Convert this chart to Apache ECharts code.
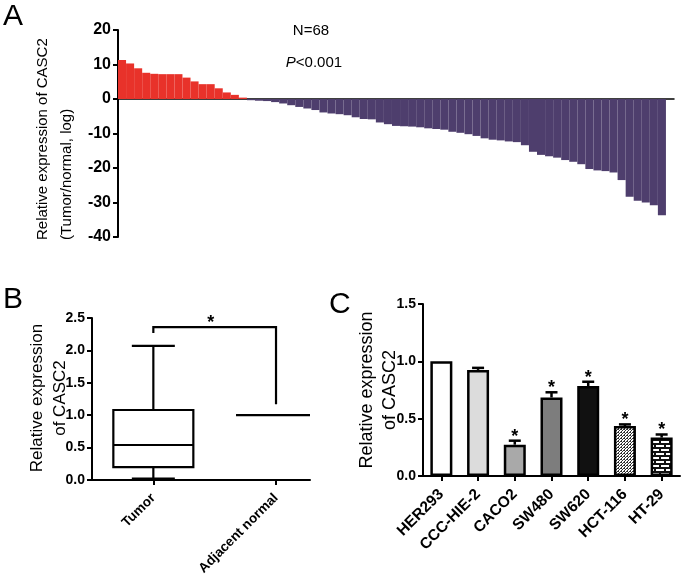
<!DOCTYPE html>
<html><head><meta charset="utf-8">
<script src="https://cdn.jsdelivr.net/npm/echarts@6/dist/echarts.min.js"></script>
<style>html,body{margin:0;padding:0;background:#fff}#c{width:685px;height:576px}</style>
</head><body><div id="c"></div>
<script>
// ---------- Panel A data ----------
const relExpr = [11.3, 10.3, 8.9, 7.6, 7.3, 7.2, 7.2, 7.2, 6.2, 5.1, 4.3, 4.3, 3.1, 1.9, 1.2, 0.4,
  -0.35, -0.5, -0.6, -0.9, -1.3, -1.8, -2.3, -2.75, -3.2, -3.9, -4.2, -4.4,
  -4.7, -5.3, -5.8, -5.9, -6.8, -7.3, -7.8, -7.9, -8.0, -8.2, -8.5, -8.7, -8.9,
  -9.5, -9.8, -10.2, -10.7, -11.4, -11.8, -12.0, -12.3, -12.5, -13.4, -15.3, -16.2, -16.6,
  -17.0, -17.7, -18.2, -18.9, -20.3, -20.7, -20.9, -21.3, -23.5, -28.3, -29.5, -30.0, -30.8, -33.7];
const sampleIds = relExpr.map((_, i) => 'S' + (i + 1)).concat(['']);
const yTicksA = { min: -40, max: 20, interval: 10 };

// ---------- Panel B data ----------
const groupsB = ['Tumor', 'Adjacent normal'];
const tumorBox = [0.02, 0.20, 0.54, 1.08, 2.07];   // min, Q1, median, Q3, max
const normalBox = [1.0, 1.0, 1.0, 1.0, 1.0];
const bracketB = [2.27, 2.36, 1.17];               // left end, top, right end

// ---------- Panel C data ----------
const cellLines = ['HER293', 'CCC-HIE-2', 'CACO2', 'SW480', 'SW620', 'HCT-116', 'HT-29'];
const meanC = [1.0, 0.925, 0.273, 0.685, 0.785, 0.435, 0.335];
const errC = [0, 0.018, 0.035, 0.045, 0.037, 0.015, 0.027];
const sigC = [0, 0, 1, 1, 1, 1, 1];

const FONT = "'Liberation Sans', Arial, Helvetica, sans-serif";

function checker() {
  const c = document.createElement('canvas'); c.width = 3; c.height = 3;
  const g = c.getContext('2d');
  g.fillStyle = '#fff'; g.fillRect(0, 0, 3, 3);
  g.fillStyle = '#333'; g.fillRect(0, 0, 1, 1); g.fillRect(2, 0, 1, 1); g.fillRect(1, 1, 1, 1); g.fillRect(0, 2, 1, 1);
  return c;
}
function brick() {
  const c = document.createElement('canvas'); c.width = 10; c.height = 8;
  const g = c.getContext('2d');
  g.fillStyle = '#111'; g.fillRect(0, 0, 10, 8);
  g.fillStyle = '#fff';
  g.fillRect(1, 1, 8, 2);
  g.fillRect(6, 5, 8, 2); g.fillRect(-4, 5, 8, 2);
  return c;
}
const fillsC = ['#ffffff', '#dcdcdc', '#a9a9a9', '#7d7d7d', '#111111',
  { image: checker(), repeat: 'repeat' }, { image: brick(), repeat: 'repeat' }];

const chart = echarts.init(document.getElementById('c'), null, { renderer: 'canvas' });

const axisLineBlack = (w) => ({ show: true, onZero: true, lineStyle: { color: '#000', width: w } });

function renderBox(params, api) {
  const x = api.value(0);
  const v = [1, 2, 3, 4, 5].map(i => api.value(i));
  const cs = params.coordSys;
  const cx = api.coord([x, 0])[0];
  const y = val => api.coord([x, val])[1];
  const clampX = p => Math.min(Math.max(p, cs.x), cs.x + cs.width);
  const half = 40, capHalf = 21.5;
  const L = clampX(cx - half), R = clampX(cx + half);
  const st = { stroke: '#000', lineWidth: 2.2, fill: null };
  const ch = [];
  if (v[3] - v[1] > 1e-9) {
    ch.push({ type: 'rect', shape: { x: L, y: y(v[3]), width: R - L, height: y(v[1]) - y(v[3]) }, style: st });
  }
  ch.push({ type: 'line', shape: { x1: L, y1: y(v[2]), x2: R, y2: y(v[2]) }, style: st });
  if (v[4] > v[3]) {
    ch.push({ type: 'line', shape: { x1: cx, y1: y(v[3]), x2: cx, y2: y(v[4]) }, style: st });
    ch.push({ type: 'line', shape: { x1: clampX(cx - capHalf), y1: y(v[4]), x2: clampX(cx + capHalf), y2: y(v[4]) }, style: st });
  }
  if (v[0] < v[1]) {
    ch.push({ type: 'line', shape: { x1: cx, y1: y(v[1]), x2: cx, y2: y(v[0]) }, style: st });
    ch.push({ type: 'line', shape: { x1: clampX(cx - capHalf), y1: y(v[0]), x2: clampX(cx + capHalf), y2: y(v[0]) }, style: st });
  }
  return { type: 'group', children: ch };
}

function renderBracket(params, api) {
  const x1 = api.value(0), x2 = api.value(1);
  const yL = api.value(2), yT = api.value(3), yR = api.value(4);
  const pL = api.coord([x1, yL]), pTL = api.coord([x1, yT]), pTR = api.coord([x2, yT]), pR = api.coord([x2, yR]);
  return {
    type: 'group', children: [
      { type: 'polyline', shape: { points: [pL, pTL, pTR, pR] }, style: { stroke: '#000', lineWidth: 2.2, fill: null } },
      { type: 'text', x: (pTL[0] + pTR[0]) / 2 - 4, y: pTL[1] - 4,
        style: { text: '*', font: 'bold 18px ' + FONT, fill: '#000', align: 'center', verticalAlign: 'middle', textAlign: 'center', textVerticalAlign: 'middle' } }
    ]
  };
}

function renderErr(params, api) {
  const i = api.value(0), m = api.value(1), e = api.value(2), s = api.value(3);
  const base = api.coord([i, m]);
  const top = api.coord([i, m + e]);
  const ch = [];
  if (e > 0) {
    const st = { stroke: '#000', lineWidth: 2.5 };
    ch.push({ type: 'line', shape: { x1: base[0], y1: base[1], x2: top[0], y2: top[1] }, style: st });
    ch.push({ type: 'line', shape: { x1: top[0] - 6, y1: top[1], x2: top[0] + 6, y2: top[1] }, style: st });
  }
  if (s) {
    ch.push({ type: 'text', x: top[0], y: top[1] - 4,
      style: { text: '*', font: 'bold 18px ' + FONT, fill: '#000', align: 'center', verticalAlign: 'middle', textAlign: 'center', textVerticalAlign: 'middle' } });
  }
  return { type: 'group', children: ch };
}

const tickLab = (size) => ({ color: '#000', fontFamily: FONT, fontWeight: 'bold', fontSize: size });

const option = {
  animation: false,
  backgroundColor: '#fff',
  grid: [
    { left: 118, top: 30, width: 556, height: 207, containLabel: false, outerBoundsMode: 'none' },
    { left: 92, top: 318, width: 218, height: 162, containLabel: false, outerBoundsMode: 'none' },
    { left: 423, top: 304, width: 257, height: 172, containLabel: false, outerBoundsMode: 'none' }
  ],
  xAxis: [
    { gridIndex: 0, type: 'category', data: sampleIds, boundaryGap: true,
      axisLine: axisLineBlack(1.5), axisTick: { show: false }, axisLabel: { show: false }, splitLine: { show: false } },
    { gridIndex: 1, type: 'value', min: 0.5, max: 2.277,
      axisLine: { show: true, onZero: false, lineStyle: { color: '#000', width: 2 } },
      axisTick: { show: true, customValues: [1, 2], length: 5, lineStyle: { color: '#000', width: 2 } },
      axisLabel: Object.assign({ customValues: [1, 2], rotate: 45, margin: 16,
        formatter: v => groupsB[Math.round(v) - 1] || '' }, tickLab(13.5)),
      splitLine: { show: false } },
    { gridIndex: 2, type: 'category', data: cellLines,
      axisLine: { show: true, onZero: false, lineStyle: { color: '#000', width: 2 } },
      axisTick: { show: true, alignWithLabel: true, length: 5, lineStyle: { color: '#000', width: 2 } },
      axisLabel: Object.assign({ rotate: 45, interval: 0, margin: 16 }, tickLab(15.5)) }
  ],
  yAxis: [
    { gridIndex: 0, type: 'value', min: yTicksA.min, max: yTicksA.max, interval: yTicksA.interval,
      axisLine: { show: true, onZero: false, lineStyle: { color: '#000', width: 2 } },
      axisTick: { show: true, length: 5, lineStyle: { color: '#000', width: 2 } },
      axisLabel: Object.assign({ margin: 7 }, tickLab(16)), splitLine: { show: false } },
    { gridIndex: 1, type: 'value', min: 0, max: 2.5, interval: 0.5,
      axisLine: { show: true, onZero: false, lineStyle: { color: '#000', width: 2 } },
      axisTick: { show: true, length: 5, lineStyle: { color: '#000', width: 2 } },
      axisLabel: Object.assign({ margin: 7, formatter: v => v.toFixed(1) }, tickLab(14)), splitLine: { show: false } },
    { gridIndex: 2, type: 'value', min: 0, max: 1.5, interval: 0.5,
      axisLine: { show: true, onZero: false, lineStyle: { color: '#000', width: 2 } },
      axisTick: { show: true, length: 5, lineStyle: { color: '#000', width: 2 } },
      axisLabel: Object.assign({ margin: 7, formatter: v => v.toFixed(1) }, tickLab(14)), splitLine: { show: false } }
  ],
  series: [
    { type: 'bar', xAxisIndex: 0, yAxisIndex: 0, data: relExpr, barCategoryGap: '0%',
      itemStyle: { color: p => p.value >= 0 ? '#e8322a' : '#4e3e6d' }, z: 1 },
    { type: 'custom', xAxisIndex: 1, yAxisIndex: 1, renderItem: renderBox, clip: false,
      data: [[1].concat(tumorBox), [2].concat(normalBox)] },
    { type: 'custom', xAxisIndex: 1, yAxisIndex: 1, renderItem: renderBracket, clip: false,
      data: [[1, 2].concat(bracketB)] },
    { type: 'bar', xAxisIndex: 2, yAxisIndex: 2, barWidth: 22,
      data: meanC.map((v, i) => ({ value: v, itemStyle: { color: fillsC[i] } })),
      itemStyle: { borderColor: '#000', borderWidth: 2.5 } },
    { type: 'custom', xAxisIndex: 2, yAxisIndex: 2, renderItem: renderErr, clip: false, z: 5,
      data: meanC.map((m, i) => [i, m, errC[i], sigC[i]]) }
  ],
  graphic: [
    { type: 'text', x: 3, y: 17, style: { text: 'A', font: '30px ' + FONT, fill: '#000', verticalAlign: 'middle', textVerticalAlign: 'middle' } },
    { type: 'text', x: 3, y: 300, style: { text: 'B', font: '30px ' + FONT, fill: '#000', verticalAlign: 'middle', textVerticalAlign: 'middle' } },
    { type: 'text', x: 329, y: 305, style: { text: 'C', font: '30px ' + FONT, fill: '#000', verticalAlign: 'middle', textVerticalAlign: 'middle' } },
    { type: 'text', x: 43, y: 240, rotation: Math.PI / 2,
      style: { text: 'Relative expression of CASC2', font: '15px ' + FONT, fill: '#000', align: 'left', textAlign: 'left', verticalAlign: 'middle', textVerticalAlign: 'middle' } },
    { type: 'text', x: 67, y: 240, rotation: Math.PI / 2,
      style: { text: '(Tumor/normal, log)', font: '15px ' + FONT, fill: '#000', align: 'left', textAlign: 'left', verticalAlign: 'middle', textVerticalAlign: 'middle' } },
    { type: 'text', x: 311, y: 31,
      style: { text: 'N=68', font: '15px ' + FONT, fill: '#000', align: 'center', textAlign: 'center', verticalAlign: 'middle', textVerticalAlign: 'middle' } },
    { type: 'text', x: 314, y: 63,
      style: { text: '{i|P}<0.001', font: '15px ' + FONT, fill: '#000', align: 'center', textAlign: 'center', verticalAlign: 'middle', textVerticalAlign: 'middle',
        rich: { i: { fontStyle: 'italic', fontSize: 15, fontFamily: FONT, fill: '#000' } } } },
    { type: 'text', x: 37, y: 398, rotation: Math.PI / 2,
      style: { text: 'Relative expression', font: '17px ' + FONT, fill: '#000', align: 'center', textAlign: 'center', verticalAlign: 'middle', textVerticalAlign: 'middle' } },
    { type: 'text', x: 60, y: 398, rotation: Math.PI / 2,
      style: { text: 'of CASC2', font: '17px ' + FONT, fill: '#000', align: 'center', textAlign: 'center', verticalAlign: 'middle', textVerticalAlign: 'middle' } },
    { type: 'text', x: 367, y: 390, rotation: Math.PI / 2,
      style: { text: 'Relative expression', font: '18px ' + FONT, fill: '#000', align: 'center', textAlign: 'center', verticalAlign: 'middle', textVerticalAlign: 'middle' } },
    { type: 'text', x: 390, y: 390, rotation: Math.PI / 2,
      style: { text: 'of CASC2', font: '18px ' + FONT, fill: '#000', align: 'center', textAlign: 'center', verticalAlign: 'middle', textVerticalAlign: 'middle' } }
  ]
};
chart.setOption(option);
</script>
</body></html>
